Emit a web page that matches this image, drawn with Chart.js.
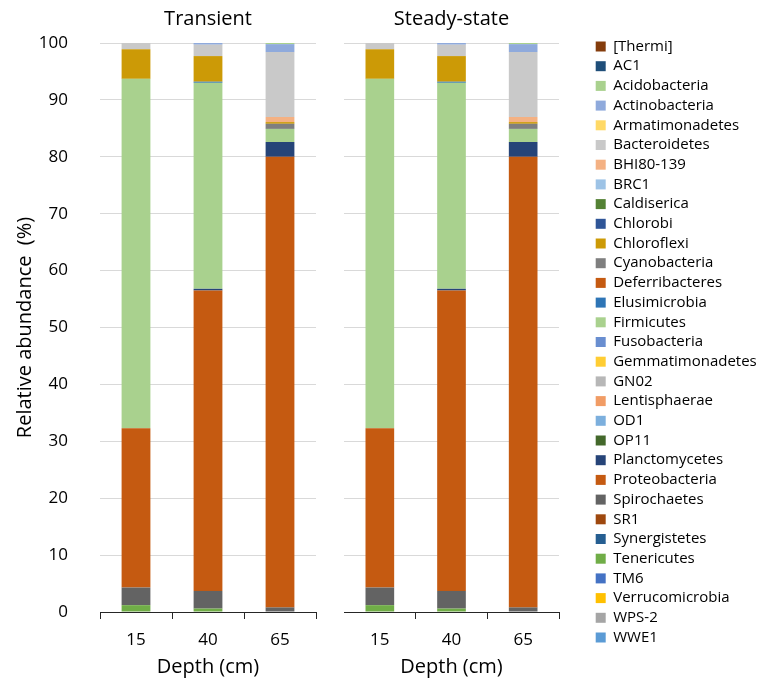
<!DOCTYPE html>
<html>
<head>
<meta charset="utf-8">
<title>Relative abundance by depth</title>
<script src="https://cdn.jsdelivr.net/npm/chart.js@4.4.1/dist/chart.umd.min.js"></script>
<style>
  body { margin: 0; background: #fff; }
  #wrap { position: relative; width: 758px; height: 684px; }
  #left { position: absolute; left: 0; top: 0; }
  #right { position: absolute; left: 344px; top: 0; }
</style>
</head>
<body>
<div id="wrap">
  <canvas id="left" width="344" height="684"></canvas>
  <canvas id="right" width="414" height="684"></canvas>
</div>
<script>
const depths = ['15', '40', '65'];

const phyla = [
  '[Thermi]', 'AC1', 'Acidobacteria', 'Actinobacteria', 'Armatimonadetes',
  'Bacteroidetes', 'BHI80-139', 'BRC1', 'Caldiserica', 'Chlorobi',
  'Chloroflexi', 'Cyanobacteria', 'Deferribacteres', 'Elusimicrobia', 'Firmicutes',
  'Fusobacteria', 'Gemmatimonadetes', 'GN02', 'Lentisphaerae', 'OD1',
  'OP11', 'Planctomycetes', 'Proteobacteria', 'Spirochaetes', 'SR1',
  'Synergistetes', 'Tenericutes', 'TM6', 'Verrucomicrobia', 'WPS-2', 'WWE1'
];

const phylumColors = [
  '#843C0C', '#1F4E79', '#A9D18E', '#8FAADC', '#FFD966',
  '#C9C9C9', '#F4B183', '#9DC3E6', '#548235', '#2F5597',
  '#CC9A06', '#7F7F7F', '#C55A11', '#2E75B6', '#A9D18E',
  '#698ED0', '#FFCD33', '#B7B7B7', '#F19C65', '#7CAFDD',
  '#43682B', '#264478', '#C55A11', '#636363', '#9E480E',
  '#255E91', '#70AD47', '#4472C4', '#FFC000', '#A5A5A5', '#5B9BD5'
];

// % per depth: Transient 15, 40, 65 then Steady-state 15, 40, 65
const acidobacteria  = [0,    0,    0.2,  0,    0,    0.2];
const actinobacteria = [0,    0.3,  1.4,  0,    0.3,  1.4];
const bacteroidetes  = [1.1,  2.0,  11.4, 1.1,  2.0,  11.4];
const bhi80_139      = [0,    0,    0.9,  0,    0,    0.9];
const chloroflexi    = [5.2,  4.5,  0.3,  5.2,  4.5,  0.3];
const cyanobacteria  = [0,    0,    0.9,  0,    0,    0.9];
const elusimicrobia  = [0,    0.2,  0,    0,    0.2,  0];
const firmicutes     = [61.4, 36.2, 2.3,  61.4, 36.2, 2.3];
const planctomycetes = [0,    0.3,  2.6,  0,    0.3,  2.6];
const proteobacteria = [28.0, 52.8, 79.2, 28.0, 52.8, 79.2];
const spirochaetes   = [3.1,  3.1,  0.8,  3.1,  3.1,  0.8];
const tenericutes    = [1.2,  0.6,  0,    1.2,  0.6,  0];
const noReads        = [0, 0, 0, 0, 0, 0];

const seriesByName = {
  'Acidobacteria': acidobacteria,
  'Actinobacteria': actinobacteria,
  'Bacteroidetes': bacteroidetes,
  'BHI80-139': bhi80_139,
  'Chloroflexi': chloroflexi,
  'Cyanobacteria': cyanobacteria,
  'Elusimicrobia': elusimicrobia,
  'Firmicutes': firmicutes,
  'Planctomycetes': planctomycetes,
  'Proteobacteria': proteobacteria,
  'Spirochaetes': spirochaetes,
  'Tenericutes': tenericutes
};

Chart.defaults.font.family = "'Open Sans', sans-serif";
Chart.defaults.color = '#000';

// first dataset sits at the bottom of the stack, so WWE1 goes first
function buildDatasets(offset) {
  return phyla.map((name, i) => ({
    label: name,
    data: (seriesByName[name] || noReads).slice(offset, offset + 3),
    backgroundColor: phylumColors[i],
    borderWidth: 0,
    stack: 'depth'
  })).reverse();
}

function xScale() {
  return {
    stacked: true,
    grid: { display: true, drawOnChartArea: false, drawTicks: true, tickLength: 7, color: '#262626', lineWidth: 1 },
    border: { display: true, color: '#262626', width: 1 },
    ticks: { padding: 11, font: { size: 17 } },
    title: { display: true, text: 'Depth (cm)', font: { size: 20 }, padding: { top: 0, bottom: 5 } },
    afterFit: s => { s.height = 72; }
  };
}

function panelTitle(text) {
  return {
    display: true, text: text, fullSize: false,
    font: { size: 20, weight: 'normal' },
    padding: { top: 7, bottom: 12 }
  };
}

new Chart(document.getElementById('left'), {
  type: 'bar',
  data: { labels: depths, datasets: buildDatasets(0) },
  options: {
    responsive: false,
    animation: false,
    layout: { padding: { right: 28 } },
    datasets: { bar: { categoryPercentage: 1, barPercentage: 0.4 } },
    scales: {
      x: xScale(),
      y: {
        stacked: true, min: 0, max: 100,
        ticks: { stepSize: 10, padding: 32, font: { size: 17 } },
        grid: { color: '#D9D9D9', lineWidth: 1, drawTicks: false },
        border: { display: false },
        title: { display: true, text: 'Relative abundance  (%)', font: { size: 20 }, padding: { top: 13 } },
        afterFit: s => { s.width = 100; }
      }
    },
    plugins: {
      title: panelTitle('Transient'),
      legend: { display: false },
      tooltip: { enabled: false }
    }
  }
});

new Chart(document.getElementById('right'), {
  type: 'bar',
  data: { labels: depths, datasets: buildDatasets(3) },
  options: {
    responsive: false,
    animation: false,
    datasets: { bar: { categoryPercentage: 1, barPercentage: 0.4 } },
    scales: {
      x: xScale(),
      y: {
        stacked: true, min: 0, max: 100,
        ticks: { display: false, stepSize: 10 },
        grid: { color: '#D9D9D9', lineWidth: 1, drawTicks: false },
        border: { display: false },
        afterFit: s => { s.width = 0; }
      },
      gap: {
        type: 'linear', axis: 'y', position: 'right', min: 0, max: 100,
        grid: { display: false },
        ticks: { display: false },
        border: { display: false },
        afterFit: s => { s.width = 32; }
      }
    },
    plugins: {
      title: panelTitle('Steady-state'),
      legend: {
        display: true, position: 'right', align: 'center', reverse: true, maxWidth: 167,
        labels: { boxWidth: 10, boxHeight: 10, padding: 4.7, font: { size: 15 } }
      },
      tooltip: { enabled: false }
    }
  }
});
</script>
</body>
</html>
